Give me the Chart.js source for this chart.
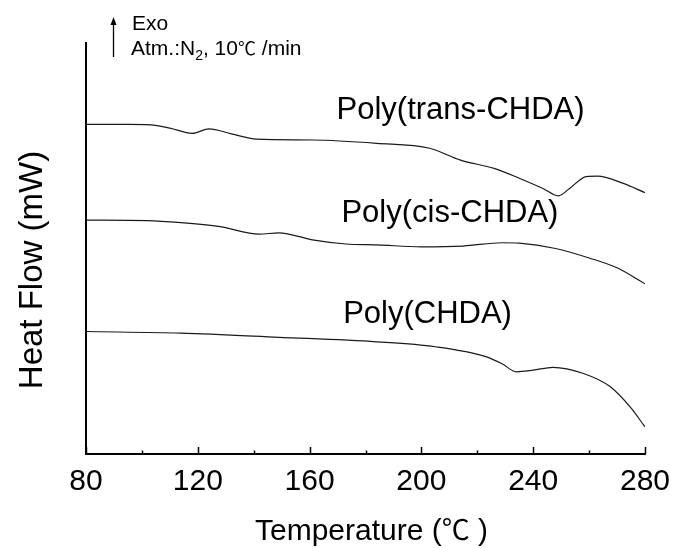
<!DOCTYPE html>
<html>
<head>
<meta charset="utf-8">
<script src="https://cdn.jsdelivr.net/npm/chart.js"></script>
<style>
  html, body { margin: 0; padding: 0; background: #fff; }
  #wrap { width: 673px; height: 548px; position: relative; }
</style>
</head>
<body>
<div id="wrap"><canvas id="dsc"></canvas></div>
<script>
// ===============================
// DATOS
// ===============================
const transTemp = [80, 95, 103, 110, 118, 124, 132, 141, 161, 184, 203, 214, 226, 235, 243.5, 249, 253, 259, 263, 272, 280];
const transHF   = [80.2, 80.2, 80.1, 79.3, 78.0, 79.1, 77.9, 76.6, 76.4, 75.6, 74.4, 71.5, 69.5, 67.1, 64.6, 62.8, 64.6, 67.5, 67.6, 65.9, 63.6];

const cisTemp = [80, 102, 114, 128, 142, 149, 161, 173, 184, 200, 215, 229, 235, 248, 260, 270, 280];
const cisHF   = [56.9, 56.8, 56.3, 55.3, 53.5, 53.8, 52.1, 51.1, 50.9, 50.4, 50.6, 51.4, 51.3, 50.0, 47.7, 45.3, 41.4];

const chdaTemp = [80, 114, 149, 184, 205, 223, 229, 234, 240, 247, 258, 267.5, 274.6, 280];
const chdaHF   = [29.8, 29.4, 28.4, 27.3, 26.1, 23.7, 21.9, 20.0, 20.4, 21.1, 19.6, 16.4, 11.5, 6.6];

const majorTicks = [80, 120, 160, 200, 240, 280];

const seriesNames = ["Poly(trans-CHDA)", "Poly(cis-CHDA)", "Poly(CHDA)"];
// posición de cada etiqueta en coordenadas de datos (temperatura, flujo)
const labelTemp = [214, 210.2, 202.2];
const labelHF   = [81.5, 56.4, 31.9];

const FONT = "'Liberation Sans', Arial, sans-serif";
const FONT_CJK = "'Noto Sans CJK SC', sans-serif";

function puntos(xs, ys) {
    return xs.map((t, i) => ({ x: t, y: ys[i] }));
}

// ===============================
// PLUGIN: textos y marcas interiores
// ===============================
const anotaciones = {
    id: "anotaciones",
    afterDraw(chart) {
        const ctx = chart.ctx;
        const sx = chart.scales.x;
        const sy = chart.scales.y;
        const area = chart.chartArea;
        ctx.save();

        // marcas del eje x hacia dentro
        ctx.strokeStyle = "#000";
        ctx.lineWidth = 1.5;
        sx.ticks.forEach(tk => {
            const px = Math.round(sx.getPixelForValue(tk.value)) + 0.5;
            const len = majorTicks.includes(tk.value) ? 7 : 3.5;
            ctx.beginPath();
            ctx.moveTo(px, area.bottom);
            ctx.lineTo(px, area.bottom - len);
            ctx.stroke();
        });

        // nombres de las curvas
        ctx.fillStyle = "#000";
        ctx.font = "31px " + FONT;
        ctx.textAlign = "center";
        ctx.textBaseline = "alphabetic";
        seriesNames.forEach((n, i) => {
            ctx.fillText(n, sx.getPixelForValue(labelTemp[i]), sy.getPixelForValue(labelHF[i]));
        });

        // texto por trozos (para mezclar fuentes)
        ctx.textAlign = "left";
        const trozos = (lista, x, base) => {
            lista.forEach(([txt, font, dy]) => {
                ctx.font = font;
                ctx.fillText(txt, x, base + dy);
                x += ctx.measureText(txt).width;
            });
        };
        const ancho = lista => lista.reduce((w, [txt, font]) => {
            ctx.font = font;
            return w + ctx.measureText(txt).width;
        }, 0);

        // título eje x
        const tituloX = [
            ["Temperature (", "30px " + FONT, 0],
            ["℃", "28px " + FONT_CJK, 0],
            [" )", "30px " + FONT, 0]
        ];
        trozos(tituloX, (area.left + area.right) / 2 + 6 - ancho(tituloX) / 2, 540);

        // título eje y
        ctx.save();
        ctx.translate(42, 270);
        ctx.rotate(-Math.PI / 2);
        ctx.textAlign = "center";
        ctx.font = "33px " + FONT;
        ctx.fillText("Heat Flow (mW)", 0, 0);
        ctx.restore();

        // flecha Exo
        ctx.lineWidth = 1.3;
        ctx.beginPath();
        ctx.moveTo(113.5, 57);
        ctx.lineTo(113.5, 22);
        ctx.stroke();
        ctx.beginPath();
        ctx.moveTo(113.5, 17);
        ctx.lineTo(110.5, 25);
        ctx.lineTo(116.5, 25);
        ctx.closePath();
        ctx.fill();

        ctx.font = "21px " + FONT;
        ctx.fillText("Exo", 132, 30);

        trozos([
            ["Atm.:N", "21px " + FONT, 0],
            ["2", "14px " + FONT, 5],
            [", 10", "21px " + FONT, 0],
            ["℃", "18px " + FONT_CJK, 0],
            [" /min", "21px " + FONT, 0]
        ], 131, 55);

        ctx.restore();
    }
};

// ===============================
// GRÁFICA DSC
// ===============================
const estiloLinea = {
    borderColor: "#1a1a1a",
    borderWidth: 1.2,
    pointRadius: 0,
    fill: false,
    cubicInterpolationMode: "monotone"
};

new Chart(document.getElementById("dsc"), {
    type: "line",
    data: {
        datasets: [
            { label: seriesNames[0], data: puntos(transTemp, transHF), ...estiloLinea },
            { label: seriesNames[1], data: puntos(cisTemp, cisHF), ...estiloLinea },
            { label: seriesNames[2], data: puntos(chdaTemp, chdaHF), ...estiloLinea }
        ]
    },
    options: {
        responsive: true,
        maintainAspectRatio: false,
        animation: false,
        layout: { autoPadding: false, padding: { left: 86, top: 43, right: 28, bottom: 0 } },
        plugins: {
            legend: { display: false },
            tooltip: { enabled: false }
        },
        scales: {
            x: {
                type: "linear",
                min: 80,
                max: 280,
                afterFit(s) {
                    s.height = 94;
                    s.paddingLeft = 0;
                    s.paddingRight = 0;
                },
                border: { display: true, color: "#000", width: 2 },
                grid: { display: false, drawTicks: false },
                ticks: {
                    stepSize: 20,
                    autoSkip: false,
                    maxRotation: 0,
                    padding: 10,
                    color: "#000",
                    font: { family: FONT, size: 30 },
                    callback: v => majorTicks.includes(v) ? String(v) : ""
                }
            },
            y: {
                min: 0,
                max: 100,
                afterFit(s) { s.width = 0; },
                border: { display: true, color: "#000", width: 2 },
                grid: { display: false, drawTicks: false },
                ticks: { display: false }
            }
        }
    },
    plugins: [anotaciones]
});
</script>
</body>
</html>
